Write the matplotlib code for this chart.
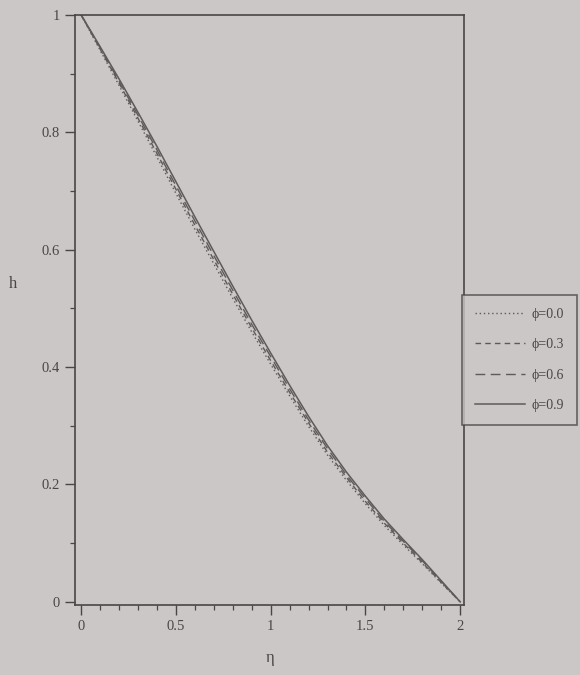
import numpy as np
import matplotlib
matplotlib.use('Agg')
import matplotlib.pyplot as plt

# eta grid and h profiles
eta = [0.0, 0.1, 0.2, 0.3, 0.4, 0.5, 0.6, 0.7, 0.8, 0.9, 1.0,
       1.1, 1.2, 1.3, 1.4, 1.5, 1.6, 1.7, 1.8, 1.9, 2.0]
h_phi00 = [1.000, 0.940, 0.880, 0.819, 0.758, 0.696, 0.635, 0.576, 0.517, 0.460, 0.405,
           0.351, 0.299, 0.250, 0.207, 0.167, 0.130, 0.097, 0.065, 0.032, 0.000]
h_phi03 = [1.000, 0.942, 0.884, 0.824, 0.764, 0.703, 0.642, 0.583, 0.524, 0.467, 0.411,
           0.357, 0.305, 0.255, 0.212, 0.171, 0.134, 0.100, 0.067, 0.033, 0.000]
h_phi06 = [1.000, 0.944, 0.887, 0.829, 0.770, 0.709, 0.649, 0.590, 0.531, 0.473, 0.418,
           0.363, 0.310, 0.261, 0.216, 0.176, 0.137, 0.103, 0.070, 0.035, 0.000]
h_phi09 = [1.000, 0.946, 0.891, 0.834, 0.776, 0.716, 0.656, 0.597, 0.538, 0.480, 0.424,
           0.369, 0.316, 0.266, 0.221, 0.180, 0.141, 0.106, 0.072, 0.036, 0.000]

labels = ['ϕ=0.0', 'ϕ=0.3', 'ϕ=0.6', 'ϕ=0.9']
x_ticks = [0, 0.5, 1, 1.5, 2]
x_ticklabels = ['0', '0.5', '1', '1.5', '2']
y_ticks = [0, 0.2, 0.4, 0.6, 0.8, 1]
y_ticklabels = ['0', '0.2', '0.4', '0.6', '0.8', '1']

PAPER = '#cbc7c6'
INK   = '#4a4646'
LINE  = '#5e5a5a'

plt.rcParams['font.family'] = ['Liberation Serif', 'DejaVu Serif']

fig = plt.figure(figsize=(5.8, 6.75), dpi=100)
fig.patch.set_facecolor(PAPER)
ax = fig.add_axes([0.13, 0.104, 0.67, 0.874])
ax.set_facecolor(PAPER)

styles = [(0, (1, 2)), (0, (4, 3)), (0, (7, 4)), '-']
widths = [1.0, 1.0, 1.0, 1.1]
for hv, lab, ls, lw in zip([h_phi00, h_phi03, h_phi06, h_phi09], labels, styles, widths):
    ax.plot(eta, hv, color=LINE, linestyle=ls, linewidth=lw, label=lab)

ax.set_xlim(-0.03, 2.02)
ax.set_ylim(-0.005, 1.0)
ax.set_xticks(x_ticks)
ax.set_xticklabels(x_ticklabels)
ax.set_yticks(y_ticks)
ax.set_yticklabels(y_ticklabels)
ax.set_xticks(np.arange(0, 2.01, 0.1), minor=True)
ax.set_yticks(np.arange(0, 1.01, 0.1), minor=True)
ax.tick_params(which='major', direction='out', length=7, width=1.0,
               colors=INK, labelsize=10.5, labelcolor=INK, pad=4)
ax.tick_params(which='minor', direction='out', length=3.5, width=0.9, colors=INK)
for sp in ax.spines.values():
    sp.set_edgecolor(INK)
    sp.set_linewidth(1.2)

ax.set_xlabel('η', color=INK, fontsize=12, labelpad=12)
ax.set_ylabel('h', color=INK, fontsize=12, rotation=0)
ax.yaxis.set_label_coords(-0.16, 0.53)

leg = ax.legend(loc='center left', bbox_to_anchor=(0.995, 0.415), frameon=True,
                fancybox=False, fontsize=10, handlelength=3.6, handletextpad=0.5,
                labelspacing=1.25, borderpad=0.9, borderaxespad=0.0)
leg.get_frame().set_facecolor(PAPER)
leg.get_frame().set_edgecolor(INK)
leg.get_frame().set_linewidth(1.2)
for t in leg.get_texts():
    t.set_color(INK)

plt.savefig('out.png', dpi=100, facecolor=PAPER)
plt.close()
